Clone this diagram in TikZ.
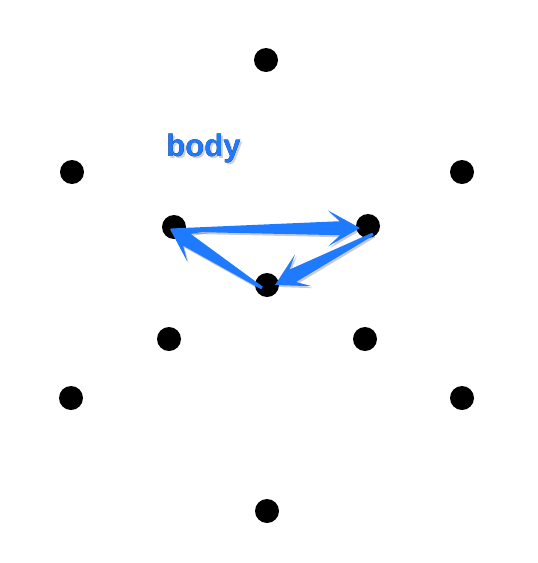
\documentclass[tikz,border=0pt]{standalone}
\usepackage{fontspec}
\setsansfont{Liberation Sans}
\usepackage{pdfrender}
\usetikzlibrary{calc}
\definecolor{arrowblue}{RGB}{30,122,255}
\tikzset{D/.style={circle, fill=black, inner sep=0pt, minimum size=24pt}}
\tikzset{A/.style={fill=arrowblue}}
\tikzset{W/.style={inner sep=0pt, anchor=base, font=\sffamily\bfseries\fontsize{31}{32}\selectfont}}
% tapered arrow from #1 to #2
\newcommand{\taparrow}[2]{
    \coordinate (nb) at ($(#2)!20pt!(#1)$);
    \coordinate (hb) at ($(#2)!32pt!(#1)$);
    \fill[black, opacity=0.2] ([shift={(1.5,2)}]$(#1)!1.5pt!90:(#2)$) -- ([shift={(1.5,2)}]$(nb)!7pt!90:(#2)$)
        -- ([shift={(1.5,2)}]$(hb)!18pt!90:(#2)$) -- ([shift={(1.5,2)}]#2)
        -- ([shift={(1.5,2)}]$(hb)!18pt!-90:(#2)$) -- ([shift={(1.5,2)}]$(nb)!7pt!-90:(#2)$)
        -- ([shift={(1.5,2)}]$(#1)!1.5pt!-90:(#2)$) -- cycle;
    \fill[A] ($(#1)!1.5pt!90:(#2)$) -- ($(nb)!7pt!90:(#2)$) -- ($(hb)!18pt!90:(#2)$)
        -- (#2) -- ($(hb)!18pt!-90:(#2)$) -- ($(nb)!7pt!-90:(#2)$)
        -- ($(#1)!1.5pt!-90:(#2)$) -- cycle;
}
\begin{document}
\begin{tikzpicture}[x=1pt,y=-1pt]
    \useasboundingbox (0,0) rectangle (538,563);
    % dots
    \node[D] (top) at (266,60) {};
    \node[D] (ul) at (72,172) {};
    \node[D] (ur) at (462,172) {};
    \node[D] (l) at (174,227) {};
    \node[D] (r) at (368,226) {};
    \node[D] (c) at (267,285) {};
    \node[D] (ll) at (169,339) {};
    \node[D] (lr) at (365,339) {};
    \node[D] (bl) at (71,398) {};
    \node[D] (br) at (462,398) {};
    \node[D] (bot) at (267,511) {};
    % label
    \node[W, opacity=0.18] at (205.5,158.5) {\textpdfrender{TextRenderingMode=FillStroke, LineWidth=6pt, LineJoin=1, StrokeColor=black!70, FillColor=black!70}{body}};
    \node[W] at (203.5,156) {\textpdfrender{TextRenderingMode=Stroke, LineWidth=5pt, LineJoin=1, StrokeColor=white}{body}};
    \node[W, text=arrowblue] (lbl) at (203.5,156) {body};
    % arrows
    \coordinate (t1) at ([shift={(-3,3)}]l.center);
    \coordinate (h1) at ([shift={(-8,2)}]r.center);
    \coordinate (t2) at ([shift={(5,8)}]r.center);
    \coordinate (h2) at ([shift={(8,0)}]c.center);
    \coordinate (t3) at ([shift={(-5,3)}]c.center);
    \coordinate (h3) at ([shift={(-4,2)}]l.center);
    \taparrow{t1}{h1}
    \taparrow{t2}{h2}
    \taparrow{t3}{h3}
\end{tikzpicture}
\end{document}
